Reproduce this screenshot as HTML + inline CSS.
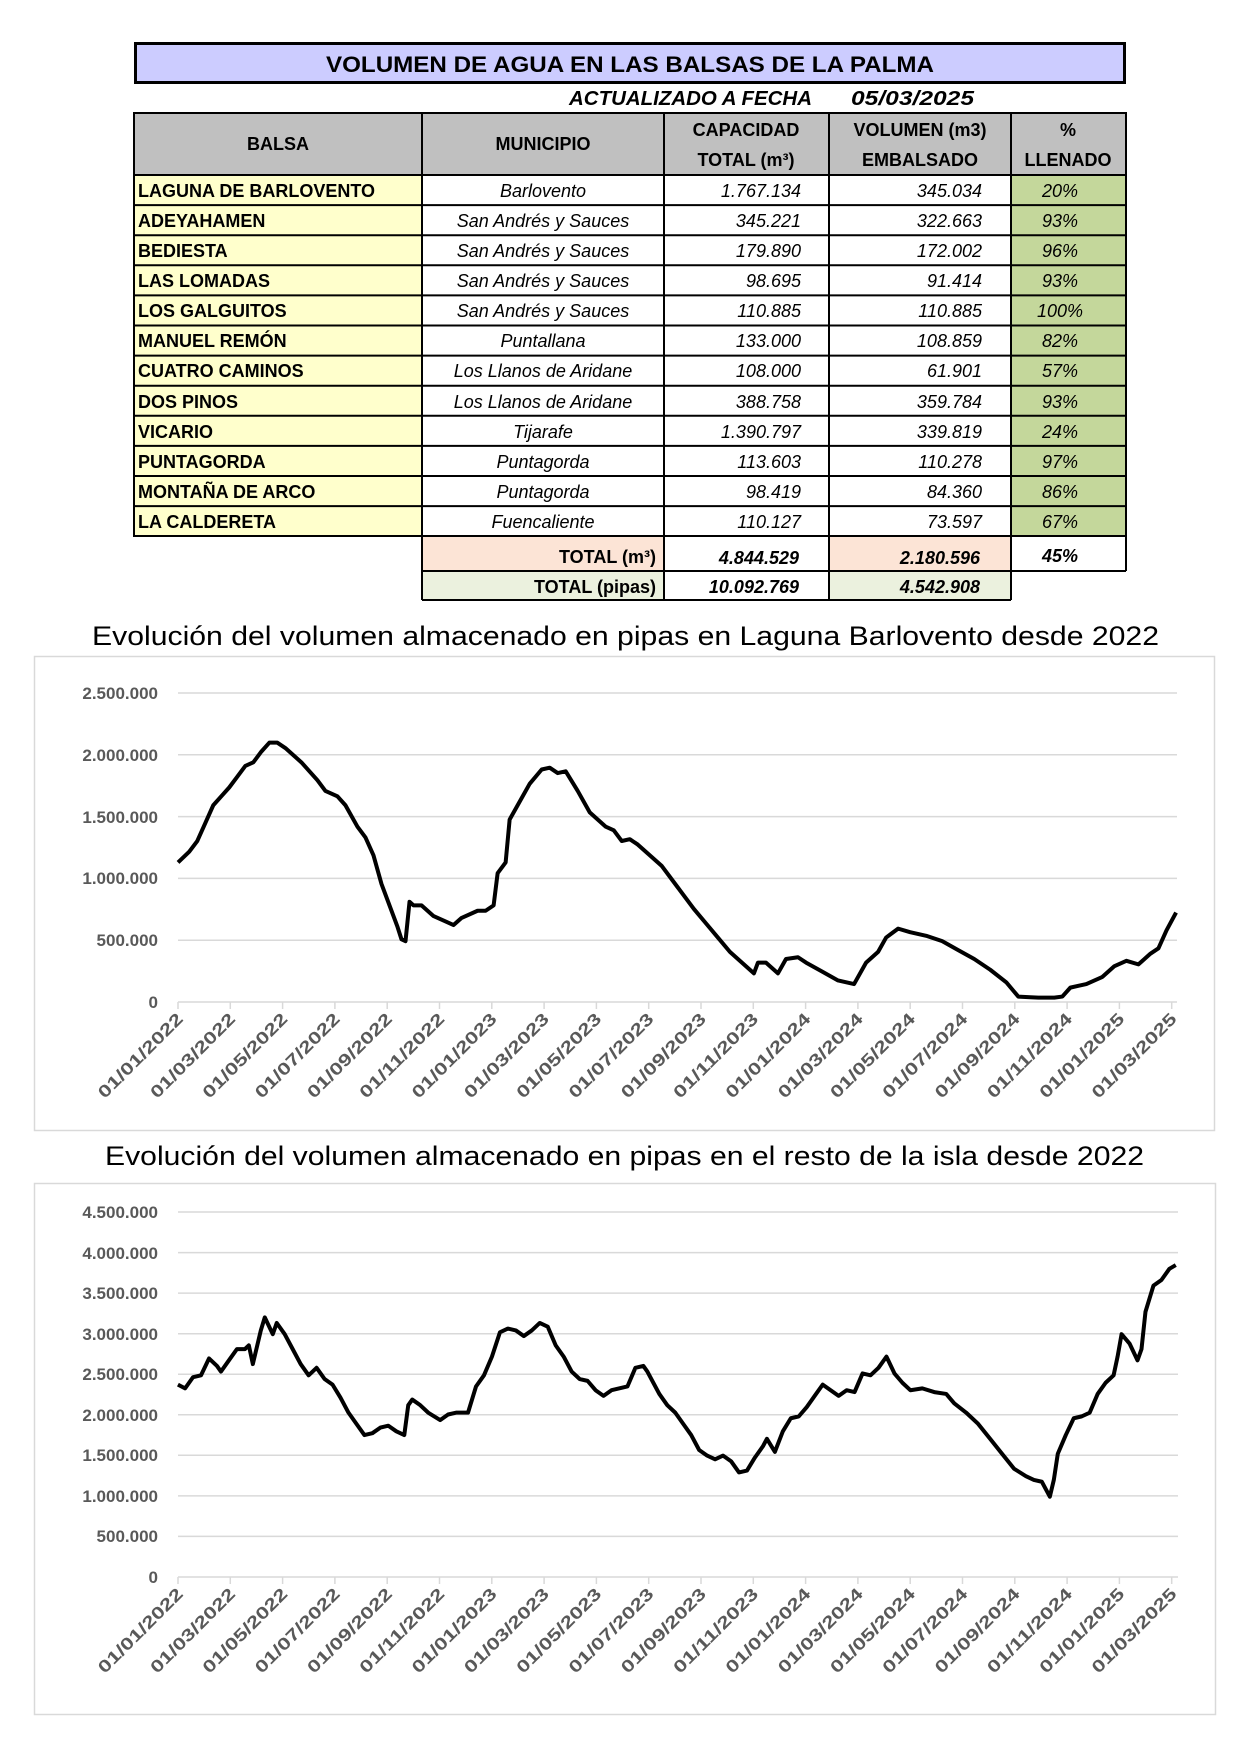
<!DOCTYPE html>
<html><head><meta charset="utf-8"><style>
html,body{margin:0;padding:0;background:#fff}
svg{display:block}
text{font-family:"Liberation Sans",sans-serif}
.b{font-weight:bold;font-size:18px;fill:#000}
.i{font-style:italic;font-size:18px;fill:#000}
.ax{font-weight:bold;font-size:17px;fill:#595959}
.tk{font-weight:bold;font-size:17px;fill:#595959}
.tt{font-size:27px;fill:#000}
</style></head><body>
<svg width="1240" height="1755" viewBox="0 0 1240 1755" xmlns="http://www.w3.org/2000/svg">
<!-- Title box -->
<rect x="135.5" y="43.5" width="989" height="39" fill="#ccccff" stroke="#000" stroke-width="3"/>
<text x="630" y="72" text-anchor="middle" class="b" style="font-size:22px" textLength="608" lengthAdjust="spacingAndGlyphs">VOLUMEN DE AGUA EN LAS BALSAS DE LA PALMA</text>
<text x="569" y="105" class="b" style="font-style:italic;font-size:20px" textLength="243" lengthAdjust="spacingAndGlyphs">ACTUALIZADO A FECHA</text>
<text x="851" y="105" class="b" style="font-style:italic;font-size:20px" textLength="123" lengthAdjust="spacingAndGlyphs">05/03/2025</text>

<!-- header -->
<rect x="134" y="113" width="992" height="62" fill="#c0c0c0"/>
<!-- column fills -->
<rect x="134" y="175" width="288" height="361" fill="#ffffcc"/>
<rect x="1011" y="175" width="115" height="361" fill="#c4d79b"/>
<rect x="422" y="536" width="242" height="35" fill="#fce4d6"/>
<rect x="829" y="536" width="182" height="35" fill="#fce4d6"/>
<rect x="422" y="571" width="242" height="29" fill="#ebf1de"/>
<rect x="829" y="571" width="182" height="29" fill="#ebf1de"/>
<g stroke="#000" stroke-width="2" fill="none">
<rect x="134" y="113" width="992" height="423"/>
<line x1="422" y1="113" x2="422" y2="600"/>
<line x1="664" y1="113" x2="664" y2="600"/>
<line x1="829" y1="113" x2="829" y2="600"/>
<line x1="1011" y1="113" x2="1011" y2="600"/>
<line x1="1126" y1="536" x2="1126" y2="571"/>
<line x1="422" y1="571" x2="1126" y2="571"/>
<line x1="422" y1="600" x2="1011" y2="600"/>
<line x1="134" y1="175" x2="1126" y2="175"/>
<line x1="134" y1="205.1" x2="1126" y2="205.1"/>
<line x1="134" y1="235.2" x2="1126" y2="235.2"/>
<line x1="134" y1="265.3" x2="1126" y2="265.3"/>
<line x1="134" y1="295.4" x2="1126" y2="295.4"/>
<line x1="134" y1="325.5" x2="1126" y2="325.5"/>
<line x1="134" y1="355.6" x2="1126" y2="355.6"/>
<line x1="134" y1="385.7" x2="1126" y2="385.7"/>
<line x1="134" y1="415.8" x2="1126" y2="415.8"/>
<line x1="134" y1="445.9" x2="1126" y2="445.9"/>
<line x1="134" y1="476" x2="1126" y2="476"/>
<line x1="134" y1="506.1" x2="1126" y2="506.1"/>
</g>
<g class="b" text-anchor="middle">
<text x="278" y="150" class="b">BALSA</text>
<text x="543" y="150" class="b">MUNICIPIO</text>
<text x="746" y="136" class="b">CAPACIDAD</text>
<text x="746" y="166" class="b">TOTAL  (m³)</text>
<text x="920" y="136" class="b">VOLUMEN (m3)</text>
<text x="920" y="166" class="b">EMBALSADO</text>
<text x="1068" y="136" class="b">%</text>
<text x="1068" y="166" class="b">LLENADO</text>
</g>
<g id="rows">
<text x="138" y="197" class="b">LAGUNA DE BARLOVENTO</text>
<text x="138" y="227" class="b">ADEYAHAMEN</text>
<text x="138" y="257" class="b">BEDIESTA</text>
<text x="138" y="287" class="b">LAS LOMADAS</text>
<text x="138" y="317" class="b">LOS GALGUITOS</text>
<text x="138" y="347" class="b">MANUEL REMÓN</text>
<text x="138" y="377" class="b">CUATRO CAMINOS</text>
<text x="138" y="408" class="b">DOS PINOS</text>
<text x="138" y="438" class="b">VICARIO</text>
<text x="138" y="468" class="b">PUNTAGORDA</text>
<text x="138" y="498" class="b">MONTAÑA DE ARCO</text>
<text x="138" y="528" class="b">LA CALDERETA</text>
</g>
<g class="i" text-anchor="middle">
<text x="543" y="197" class="i">Barlovento</text>
<text x="543" y="227" class="i">San Andrés y Sauces</text>
<text x="543" y="257" class="i">San Andrés y Sauces</text>
<text x="543" y="287" class="i">San Andrés y Sauces</text>
<text x="543" y="317" class="i">San Andrés y Sauces</text>
<text x="543" y="347" class="i">Puntallana</text>
<text x="543" y="377" class="i">Los Llanos de Aridane</text>
<text x="543" y="408" class="i">Los Llanos de Aridane</text>
<text x="543" y="438" class="i">Tijarafe</text>
<text x="543" y="468" class="i">Puntagorda</text>
<text x="543" y="498" class="i">Puntagorda</text>
<text x="543" y="528" class="i">Fuencaliente</text>
</g>
<g text-anchor="end">
<text x="801" y="197" class="i">1.767.134</text>
<text x="801" y="227" class="i">345.221</text>
<text x="801" y="257" class="i">179.890</text>
<text x="801" y="287" class="i">98.695</text>
<text x="801" y="317" class="i">110.885</text>
<text x="801" y="347" class="i">133.000</text>
<text x="801" y="377" class="i">108.000</text>
<text x="801" y="408" class="i">388.758</text>
<text x="801" y="438" class="i">1.390.797</text>
<text x="801" y="468" class="i">113.603</text>
<text x="801" y="498" class="i">98.419</text>
<text x="801" y="528" class="i">110.127</text>
<text x="982" y="197" class="i">345.034</text>
<text x="982" y="227" class="i">322.663</text>
<text x="982" y="257" class="i">172.002</text>
<text x="982" y="287" class="i">91.414</text>
<text x="982" y="317" class="i">110.885</text>
<text x="982" y="347" class="i">108.859</text>
<text x="982" y="377" class="i">61.901</text>
<text x="982" y="408" class="i">359.784</text>
<text x="982" y="438" class="i">339.819</text>
<text x="982" y="468" class="i">110.278</text>
<text x="982" y="498" class="i">84.360</text>
<text x="982" y="528" class="i">73.597</text>
</g>
<g text-anchor="middle">
<text x="1060" y="197" class="i">20%</text>
<text x="1060" y="227" class="i">93%</text>
<text x="1060" y="257" class="i">96%</text>
<text x="1060" y="287" class="i">93%</text>
<text x="1060" y="317" class="i">100%</text>
<text x="1060" y="347" class="i">82%</text>
<text x="1060" y="377" class="i">57%</text>
<text x="1060" y="408" class="i">93%</text>
<text x="1060" y="438" class="i">24%</text>
<text x="1060" y="468" class="i">97%</text>
<text x="1060" y="498" class="i">86%</text>
<text x="1060" y="528" class="i">67%</text>
</g>
<text x="656" y="563" text-anchor="end" class="b">TOTAL (m³)</text>
<text x="799" y="564" text-anchor="end" class="b" style="font-style:italic">4.844.529</text>
<text x="980" y="564" text-anchor="end" class="b" style="font-style:italic">2.180.596</text>
<text x="1060" y="562" text-anchor="middle" class="b" style="font-style:italic">45%</text>
<text x="656" y="593" text-anchor="end" class="b">TOTAL (pipas)</text>
<text x="799" y="593" text-anchor="end" class="b" style="font-style:italic">10.092.769</text>
<text x="980" y="593" text-anchor="end" class="b" style="font-style:italic">4.542.908</text>

<!-- Chart 1 -->
<text x="92" y="645" class="tt" textLength="1067" lengthAdjust="spacingAndGlyphs">Evolución del volumen almacenado en pipas en Laguna Barlovento desde 2022</text>
<rect x="34.5" y="656.5" width="1180" height="474" fill="#fff" stroke="#d9d9d9" stroke-width="1.5"/>
<g stroke="#d9d9d9" stroke-width="1.5">
<line x1="178" y1="693" x2="1177" y2="693"/>
<line x1="178" y1="754.8" x2="1177" y2="754.8"/>
<line x1="178" y1="816.6" x2="1177" y2="816.6"/>
<line x1="178" y1="878.4" x2="1177" y2="878.4"/>
<line x1="178" y1="940.2" x2="1177" y2="940.2"/>
<line x1="178" y1="1002" x2="1177" y2="1002"/>
</g>
<g class="ax" text-anchor="end">
<text x="158" y="699">2.500.000</text>
<text x="158" y="761">2.000.000</text>
<text x="158" y="823">1.500.000</text>
<text x="158" y="884">1.000.000</text>
<text x="158" y="946">500.000</text>
<text x="158" y="1008">0</text>
</g>
<g id="ticks1" stroke="#d9d9d9" stroke-width="1.5"></g>
<g id="labels1"></g>
<g transform="translate(-3,619.3) scale(0.801,0.3576)">
<polyline fill="none" stroke="#000" stroke-width="4" vector-effect="non-scaling-stroke" stroke-linejoin="round" points="226,680 240,650 250,620 260,570 270,520 280,495 290,470 300,440 310,410 320,400 330,370 340,345 350,345 360,360 380,400 400,450 410,480 425,495 435,520 450,580 460,610 470,660 480,740 500,860 505,895 510,900 515,790 520,800 530,800 545,830 560,845 570,855 580,835 600,815 610,815 620,800 625,710 635,680 640,560 650,520 665,460 680,420 690,415 700,430 710,425 725,480 740,540 760,580 770,590 780,620 790,615 800,630 810,650 830,690 850,750 870,810 885,850 900,890 915,930 930,960 945,990 950,960 960,960 975,990 985,950 1000,945 1010,960 1030,985 1050,1010 1070,1020 1085,960 1100,930 1110,890 1125,865 1140,875 1160,885 1180,900 1200,925 1220,950 1240,980 1260,1015 1275,1055 1290,1057 1300,1058 1320,1058 1330,1055 1340,1030 1350,1025 1360,1020 1380,1000 1395,970 1410,955 1425,965 1440,935 1450,920 1460,870 1472,820"/>
</g>

<!-- Chart 2 -->
<text x="105" y="1165" class="tt" textLength="1039" lengthAdjust="spacingAndGlyphs">Evolución del volumen almacenado en pipas en el resto de la isla desde 2022</text>
<rect x="34.5" y="1183.5" width="1181" height="531" fill="#fff" stroke="#d9d9d9" stroke-width="1.5"/>
<g stroke="#d9d9d9" stroke-width="1.5">
<line x1="178" y1="1212" x2="1178" y2="1212"/>
<line x1="178" y1="1252.6" x2="1178" y2="1252.6"/>
<line x1="178" y1="1293.1" x2="1178" y2="1293.1"/>
<line x1="178" y1="1333.7" x2="1178" y2="1333.7"/>
<line x1="178" y1="1374.2" x2="1178" y2="1374.2"/>
<line x1="178" y1="1414.8" x2="1178" y2="1414.8"/>
<line x1="178" y1="1455.3" x2="1178" y2="1455.3"/>
<line x1="178" y1="1495.9" x2="1178" y2="1495.9"/>
<line x1="178" y1="1536.4" x2="1178" y2="1536.4"/>
<line x1="178" y1="1577" x2="1178" y2="1577"/>
</g>
<g class="ax" text-anchor="end">
<text x="158" y="1218">4.500.000</text>
<text x="158" y="1259">4.000.000</text>
<text x="158" y="1299">3.500.000</text>
<text x="158" y="1340">3.000.000</text>
<text x="158" y="1380">2.500.000</text>
<text x="158" y="1421">2.000.000</text>
<text x="158" y="1461">1.500.000</text>
<text x="158" y="1502">1.000.000</text>
<text x="158" y="1542">500.000</text>
<text x="158" y="1583">0</text>
</g>
<g id="ticks2" stroke="#d9d9d9" stroke-width="1.5"></g>
<g id="labels2"></g>
<g transform="translate(-2.2,1169.8) scale(0.797,0.3736)">
<polyline fill="none" stroke="#000" stroke-width="4" vector-effect="non-scaling-stroke" stroke-linejoin="round" points="226,575 235,585 245,555 255,550 265,505 275,525 280,540 290,510 300,480 310,480 315,470 320,520 330,430 335,395 345,440 350,410 360,440 370,480 380,520 390,550 400,530 410,560 420,575 430,610 440,650 450,680 460,710 470,705 480,690 490,685 500,700 510,710 515,630 520,615 530,630 540,650 555,670 565,655 575,650 590,650 600,580 610,550 620,500 630,435 640,425 650,430 660,445 670,430 680,410 690,420 700,470 710,500 720,540 730,560 740,565 750,590 760,605 770,590 780,585 790,580 800,530 810,525 815,540 820,560 830,600 840,630 850,650 860,680 870,710 880,750 890,765 900,775 910,765 920,780 930,810 940,805 950,770 960,740 965,720 975,755 985,700 995,665 1005,660 1015,635 1025,605 1035,575 1045,590 1055,605 1065,590 1075,595 1085,545 1095,550 1105,530 1115,500 1125,545 1135,570 1145,590 1160,585 1175,595 1190,600 1200,625 1215,650 1230,680 1245,720 1260,760 1275,800 1290,820 1300,830 1310,835 1320,875 1325,830 1330,760 1340,710 1350,665 1360,660 1370,650 1380,600 1390,570 1400,550 1405,500 1410,440 1420,465 1430,510 1435,480 1440,380 1450,310 1460,295 1470,265 1478,255"/>
</g>
<!-- tick marks and labels (static) -->
<g stroke="#d9d9d9" stroke-width="1.5">
<path d="M178,1002v7M230.3,1002v7M282.6,1002v7M334.9,1002v7M387.2,1002v7M439.5,1002v7M491.8,1002v7M544.1,1002v7M596.4,1002v7M648.7,1002v7M701,1002v7M753.3,1002v7M805.6,1002v7M857.9,1002v7M910.2,1002v7M962.5,1002v7M1014.8,1002v7M1067.1,1002v7M1119.4,1002v7M1171.7,1002v7"/>
<path d="M178,1577v7M230.3,1577v7M282.6,1577v7M334.9,1577v7M387.2,1577v7M439.5,1577v7M491.8,1577v7M544.1,1577v7M596.4,1577v7M648.7,1577v7M701,1577v7M753.3,1577v7M805.6,1577v7M857.9,1577v7M910.2,1577v7M962.5,1577v7M1014.8,1577v7M1067.1,1577v7M1119.4,1577v7M1171.7,1577v7"/>
</g>
<g class="tk" text-anchor="end">
<text transform="translate(184,1020) rotate(-45)" textLength="112" lengthAdjust="spacingAndGlyphs">01/01/2022</text>
<text transform="translate(236.3,1020) rotate(-45)" textLength="112" lengthAdjust="spacingAndGlyphs">01/03/2022</text>
<text transform="translate(288.6,1020) rotate(-45)" textLength="112" lengthAdjust="spacingAndGlyphs">01/05/2022</text>
<text transform="translate(340.9,1020) rotate(-45)" textLength="112" lengthAdjust="spacingAndGlyphs">01/07/2022</text>
<text transform="translate(393.2,1020) rotate(-45)" textLength="112" lengthAdjust="spacingAndGlyphs">01/09/2022</text>
<text transform="translate(445.5,1020) rotate(-45)" textLength="112" lengthAdjust="spacingAndGlyphs">01/11/2022</text>
<text transform="translate(497.8,1020) rotate(-45)" textLength="112" lengthAdjust="spacingAndGlyphs">01/01/2023</text>
<text transform="translate(550.1,1020) rotate(-45)" textLength="112" lengthAdjust="spacingAndGlyphs">01/03/2023</text>
<text transform="translate(602.4,1020) rotate(-45)" textLength="112" lengthAdjust="spacingAndGlyphs">01/05/2023</text>
<text transform="translate(654.7,1020) rotate(-45)" textLength="112" lengthAdjust="spacingAndGlyphs">01/07/2023</text>
<text transform="translate(707,1020) rotate(-45)" textLength="112" lengthAdjust="spacingAndGlyphs">01/09/2023</text>
<text transform="translate(759.3,1020) rotate(-45)" textLength="112" lengthAdjust="spacingAndGlyphs">01/11/2023</text>
<text transform="translate(811.6,1020) rotate(-45)" textLength="112" lengthAdjust="spacingAndGlyphs">01/01/2024</text>
<text transform="translate(863.9,1020) rotate(-45)" textLength="112" lengthAdjust="spacingAndGlyphs">01/03/2024</text>
<text transform="translate(916.2,1020) rotate(-45)" textLength="112" lengthAdjust="spacingAndGlyphs">01/05/2024</text>
<text transform="translate(968.5,1020) rotate(-45)" textLength="112" lengthAdjust="spacingAndGlyphs">01/07/2024</text>
<text transform="translate(1020.8,1020) rotate(-45)" textLength="112" lengthAdjust="spacingAndGlyphs">01/09/2024</text>
<text transform="translate(1073.1,1020) rotate(-45)" textLength="112" lengthAdjust="spacingAndGlyphs">01/11/2024</text>
<text transform="translate(1125.4,1020) rotate(-45)" textLength="112" lengthAdjust="spacingAndGlyphs">01/01/2025</text>
<text transform="translate(1177.7,1020) rotate(-45)" textLength="112" lengthAdjust="spacingAndGlyphs">01/03/2025</text>

<text transform="translate(184,1595) rotate(-45)" textLength="112" lengthAdjust="spacingAndGlyphs">01/01/2022</text>
<text transform="translate(236.3,1595) rotate(-45)" textLength="112" lengthAdjust="spacingAndGlyphs">01/03/2022</text>
<text transform="translate(288.6,1595) rotate(-45)" textLength="112" lengthAdjust="spacingAndGlyphs">01/05/2022</text>
<text transform="translate(340.9,1595) rotate(-45)" textLength="112" lengthAdjust="spacingAndGlyphs">01/07/2022</text>
<text transform="translate(393.2,1595) rotate(-45)" textLength="112" lengthAdjust="spacingAndGlyphs">01/09/2022</text>
<text transform="translate(445.5,1595) rotate(-45)" textLength="112" lengthAdjust="spacingAndGlyphs">01/11/2022</text>
<text transform="translate(497.8,1595) rotate(-45)" textLength="112" lengthAdjust="spacingAndGlyphs">01/01/2023</text>
<text transform="translate(550.1,1595) rotate(-45)" textLength="112" lengthAdjust="spacingAndGlyphs">01/03/2023</text>
<text transform="translate(602.4,1595) rotate(-45)" textLength="112" lengthAdjust="spacingAndGlyphs">01/05/2023</text>
<text transform="translate(654.7,1595) rotate(-45)" textLength="112" lengthAdjust="spacingAndGlyphs">01/07/2023</text>
<text transform="translate(707,1595) rotate(-45)" textLength="112" lengthAdjust="spacingAndGlyphs">01/09/2023</text>
<text transform="translate(759.3,1595) rotate(-45)" textLength="112" lengthAdjust="spacingAndGlyphs">01/11/2023</text>
<text transform="translate(811.6,1595) rotate(-45)" textLength="112" lengthAdjust="spacingAndGlyphs">01/01/2024</text>
<text transform="translate(863.9,1595) rotate(-45)" textLength="112" lengthAdjust="spacingAndGlyphs">01/03/2024</text>
<text transform="translate(916.2,1595) rotate(-45)" textLength="112" lengthAdjust="spacingAndGlyphs">01/05/2024</text>
<text transform="translate(968.5,1595) rotate(-45)" textLength="112" lengthAdjust="spacingAndGlyphs">01/07/2024</text>
<text transform="translate(1020.8,1595) rotate(-45)" textLength="112" lengthAdjust="spacingAndGlyphs">01/09/2024</text>
<text transform="translate(1073.1,1595) rotate(-45)" textLength="112" lengthAdjust="spacingAndGlyphs">01/11/2024</text>
<text transform="translate(1125.4,1595) rotate(-45)" textLength="112" lengthAdjust="spacingAndGlyphs">01/01/2025</text>
<text transform="translate(1177.7,1595) rotate(-45)" textLength="112" lengthAdjust="spacingAndGlyphs">01/03/2025</text>
</g>
</svg>
</body></html>
